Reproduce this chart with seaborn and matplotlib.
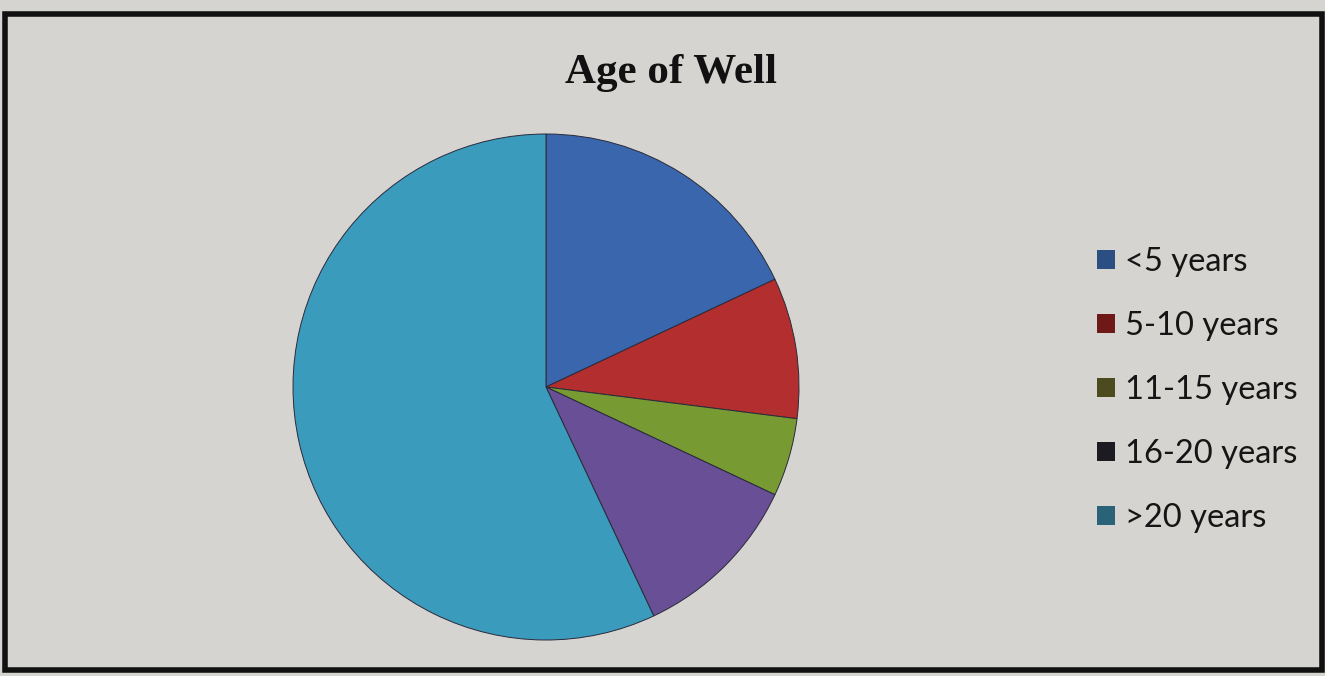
import matplotlib
matplotlib.use('Agg')
import matplotlib.pyplot as plt
from matplotlib.patches import Patch, Rectangle
import seaborn as sns

# Datos (porcentaje de pozos por edad)
categorias = ['<5 years', '5-10 years', '11-15 years', '16-20 years', '>20 years']
valores = [18, 9, 5, 11, 57]
colores_pie = ['#3A66AE', '#B32E2E', '#789A32', '#684F96', '#3A9BBD']
colores_leyenda = ['#2B4F82', '#6E1818', '#4C4B1F', '#1B1B21', '#2A6378']
titulo = 'Age of Well'

sns.set_theme(style='white')
fondo = '#D6D4D1'

fig = plt.figure(figsize=(13.25, 6.76), dpi=100, facecolor=fondo)

# Pie
ax = fig.add_axes([293/1325, 36/676, 506/1325, 506/676])
ax.set_facecolor(fondo)
ax.pie(valores, colors=colores_pie, startangle=90, counterclock=False,
       wedgeprops=dict(edgecolor='#2A2A3A', linewidth=0.7))
ax.set_xlim(-1.0, 1.0)
ax.set_ylim(-1.0, 1.0)
ax.set_aspect('equal')
ax.axis('off')

# Título
fig.text(671/1325, 1 - 73/676, titulo, ha='center', va='center',
         fontsize=31, fontweight='bold', family='Liberation Serif', color='#111111')

# Leyenda
handles = [Patch(facecolor=c, edgecolor='none') for c in colores_leyenda]
fig.legend(handles, categorias, loc='center left', bbox_to_anchor=(1097/1325, 1 - 390/676),
           frameon=False, prop=dict(family='Lato', size=23.5), labelcolor='#151515',
           handlelength=0.55, handleheight=0.55, handletextpad=0.3, labelspacing=1.04,
           borderpad=0, borderaxespad=0)

# Marco
fig.patches.append(Rectangle((5/1325, 6/676), 1317/1325, 656/676, transform=fig.transFigure,
                             fill=False, edgecolor='#111111', linewidth=4))

fig.savefig('out.png', dpi=100, facecolor=fondo)
